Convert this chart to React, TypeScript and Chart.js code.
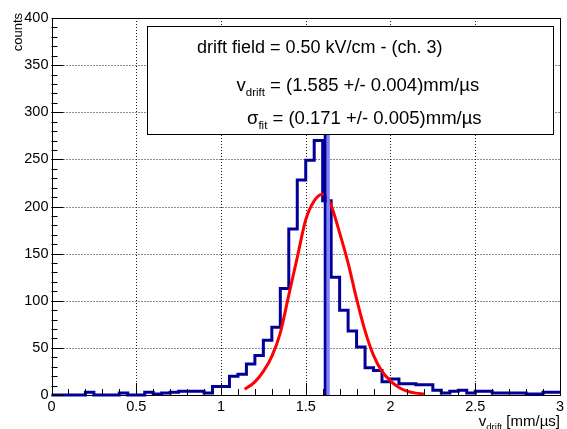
import React, { useEffect, useRef } from "react";
import { Chart, registerables } from "chart.js";

Chart.register(...registerables);

// ---------------- data ----------------
const BIN_WIDTH = 0.05;
const X_MIN = 0;
const X_MAX = 3;
const Y_MIN = 0;
const Y_MAX = 400;

// counts per 0.05-wide bin, from 0.00 to 3.00
const binCounts = [
  0, 0, 0, 0, 0, 3, 0, 0, 0, 2,
  0, 0, 3, 1, 2, 3, 4, 4, 4, 2,
  9, 9, 20, 22, 33, 42, 58, 72, 113, 176,
  228, 249, 270, 206, 125, 90, 68, 51, 29, 26,
  14, 17, 12, 12, 11, 11, 5, 2, 4, 5,
  2, 4, 4, 2, 2, 2, 2, 1, 1, 3,
];

// gaussian fit curve
const fitX = [1.14, 1.2, 1.25, 1.3, 1.35, 1.4, 1.45, 1.5, 1.55, 1.6, 1.65, 1.7, 1.75, 1.8, 1.85, 1.9, 1.95, 2.0, 2.05, 2.1, 2.15, 2.2];
const fitY = [6, 14, 25, 41, 66, 106, 146, 186, 206, 213, 201, 172, 140, 102, 68, 42, 25, 15, 8, 4, 2, 1];

// vertical marker lines (x position, top value)
const markerDarkX = [1.615];
const markerLightX = [1.633];
const markerTop = [290];

const xMajorTicks = [0, 0.5, 1, 1.5, 2, 2.5, 3];
const yMajorTicks = [0, 50, 100, 150, 200, 250, 300, 350, 400];
const X_MINOR_STEP = 0.1;
const Y_MINOR_STEP = 10;

const legendTitle = "drift field = 0.50 kV/cm - (ch. 3)";
const vdriftParts: Array<[string, boolean]> = [["v", false], ["drift", true], [" = (1.585 +/- 0.004)mm/\u00b5s", false]];
const sigmaParts: Array<[string, boolean]> = [["\u03c3", false], ["fit", true], [" = (0.171 +/- 0.005)mm/\u00b5s", false]];
const xTitleParts: Array<[string, boolean]> = [["v", false], ["drift", true], [" [mm/\u00b5s]", false]];
const yTitle = "counts";

// ---------------- style ----------------
const FONT = '"Liberation Sans", Arial, Helvetica, sans-serif';
const HIST_COLOR = "#000099";
const FIT_COLOR = "#ff0000";
const MARK_LIGHT = "#7f7fff";

function drawRich(
  ctx: CanvasRenderingContext2D,
  x: number,
  baseline: number,
  parts: Array<[string, boolean]>,
  mainSize: number,
  subSize: number,
  subShift: number,
  align: "left" | "right"
) {
  const mainFont = `${mainSize}px ${FONT}`;
  const subFont = `${subSize}px ${FONT}`;
  const widths = parts.map(([t, sub]) => {
    ctx.font = sub ? subFont : mainFont;
    return ctx.measureText(t).width;
  });
  const total = widths.reduce((a, b) => a + b, 0);
  let cx = align === "right" ? x - total : x;
  ctx.textAlign = "left";
  ctx.textBaseline = "alphabetic";
  parts.forEach(([t, sub], i) => {
    ctx.font = sub ? subFont : mainFont;
    ctx.fillText(t, cx, sub ? baseline + subShift : baseline);
    cx += widths[i];
  });
}

const rootPlugin = {
  id: "rootStyle",
  beforeDatasetsDraw(chart: any) {
    const { ctx, chartArea: a, scales } = chart;
    const xs = scales.x;
    const ys = scales.y;
    ctx.save();
    // dotted grid
    ctx.strokeStyle = "#1a1a1a";
    ctx.lineWidth = 1;
    ctx.setLineDash([1, 2]);
    xMajorTicks.forEach((v) => {
      if (v <= X_MIN || v >= X_MAX) return;
      const px = Math.round(xs.getPixelForValue(v)) + 0.5;
      ctx.beginPath();
      ctx.moveTo(px, a.top);
      ctx.lineTo(px, a.bottom);
      ctx.stroke();
    });
    yMajorTicks.forEach((v) => {
      if (v <= Y_MIN || v >= Y_MAX) return;
      const py = Math.round(ys.getPixelForValue(v)) + 0.5;
      ctx.beginPath();
      ctx.moveTo(a.left, py);
      ctx.lineTo(a.right, py);
      ctx.stroke();
    });
    ctx.setLineDash([]);
    // frame
    ctx.strokeStyle = "#000";
    ctx.lineWidth = 1;
    ctx.strokeRect(Math.round(a.left) + 0.5, Math.round(a.top) + 0.5, Math.round(a.right - a.left), Math.round(a.bottom - a.top));
    ctx.restore();
  },
  afterDatasetsDraw(chart: any) {
    const { ctx, chartArea: a, scales } = chart;
    const xs = scales.x;
    const ys = scales.y;
    ctx.save();
    ctx.strokeStyle = "#000";
    ctx.lineWidth = 1;
    ctx.beginPath();
    ctx.moveTo(Math.round(a.left) + 0.5, a.top);
    ctx.lineTo(Math.round(a.left) + 0.5, a.bottom);
    ctx.stroke();
    // x ticks (inward)
    const nx = Math.round((X_MAX - X_MIN) / X_MINOR_STEP);
    for (let i = 0; i <= nx; i++) {
      const v = X_MIN + i * X_MINOR_STEP;
      const major = xMajorTicks.some((m) => Math.abs(m - v) < 1e-6);
      const px = Math.round(xs.getPixelForValue(v)) + 0.5;
      ctx.beginPath();
      ctx.moveTo(px, a.bottom);
      ctx.lineTo(px, a.bottom - (major ? 12 : 6));
      ctx.stroke();
    }
    // y ticks (inward)
    const ny = Math.round((Y_MAX - Y_MIN) / Y_MINOR_STEP);
    for (let i = 0; i <= ny; i++) {
      const v = Y_MIN + i * Y_MINOR_STEP;
      const major = yMajorTicks.some((m) => Math.abs(m - v) < 1e-6);
      const py = Math.round(ys.getPixelForValue(v)) + 0.5;
      ctx.beginPath();
      ctx.moveTo(a.left, py);
      ctx.lineTo(a.left + (major ? 12 : 6), py);
      ctx.stroke();
    }
    ctx.restore();
  },
  afterDraw(chart: any) {
    const { ctx, chartArea: a } = chart;
    ctx.save();
    // text box
    const bx0 = 147.5, by0 = 26.5, bx1 = 553.5, by1 = 134.5;
    ctx.fillStyle = "#fff";
    ctx.fillRect(bx0, by0, bx1 - bx0, by1 - by0);
    ctx.strokeStyle = "#000";
    ctx.lineWidth = 1;
    ctx.strokeRect(bx0, by0, bx1 - bx0, by1 - by0);
    ctx.fillStyle = "#000";
    ctx.font = `18px ${FONT}`;
    ctx.textAlign = "left";
    ctx.textBaseline = "alphabetic";
    ctx.fillText(legendTitle, 197, 53);
    drawRich(ctx, 236.5, 90.5, vdriftParts, 18.5, 11.5, 5, "left");
    drawRich(ctx, 247, 123.5, sigmaParts, 18.5, 11.5, 5, "left");

    // x title
    drawRich(ctx, a.right, 426, xTitleParts, 15, 9.5, 4, "right");

    // y title
    ctx.save();
    ctx.translate(18, a.top - 5);
    ctx.rotate(-Math.PI / 2);
    ctx.font = `13px ${FONT}`;
    ctx.textAlign = "right";
    ctx.textBaseline = "middle";
    ctx.fillStyle = "#000";
    ctx.fillText(yTitle, 0, 0);
    ctx.restore();
    ctx.restore();
  },
};

export default function App() {
  const canvasRef = useRef<HTMLCanvasElement | null>(null);

  useEffect(() => {
    const canvas = canvasRef.current;
    if (!canvas) return;

    const histPoints = binCounts.map((c, i) => ({ x: X_MIN + i * BIN_WIDTH, y: c }));
    histPoints.push({ x: X_MAX, y: binCounts[binCounts.length - 1] });
    const fitPoints = fitX.map((x, i) => ({ x, y: fitY[i] }));

    const tickFont = { family: FONT, size: 14.5 };
    const fmt = (v: any) => `${+(+v).toFixed(2)}`;

    const chart = new Chart(canvas, {
      type: "line",
      data: {
        datasets: [
          {
            label: "hist",
            data: histPoints,
            stepped: "after",
            borderColor: HIST_COLOR,
            borderWidth: 3,
            pointRadius: 0,
            fill: false,
            order: 2,
            clip: false,
          } as any,
          {
            label: "fit",
            data: fitPoints,
            borderColor: FIT_COLOR,
            borderWidth: 3,
            pointRadius: 0,
            fill: false,
            cubicInterpolationMode: "monotone",
            order: 1,
            clip: false,
          } as any,
          {
            label: "markerLight",
            data: [
              { x: markerLightX[0], y: Y_MIN },
              { x: markerLightX[0], y: markerTop[0] },
            ],
            borderColor: MARK_LIGHT,
            borderWidth: 3,
            pointRadius: 0,
            fill: false,
            order: 0,
          } as any,
          {
            label: "markerDark",
            data: [
              { x: markerDarkX[0], y: Y_MIN },
              { x: markerDarkX[0], y: markerTop[0] },
            ],
            borderColor: HIST_COLOR,
            borderWidth: 3,
            pointRadius: 0,
            fill: false,
            order: 0,
          } as any,
        ],
      },
      options: {
        responsive: false,
        animation: false,
        devicePixelRatio: 1,
        layout: { padding: { top: 18, right: 4.5, left: 0, bottom: 0 } },
        plugins: {
          legend: { display: false },
          tooltip: { enabled: false },
          title: { display: false },
        },
        scales: {
          x: {
            type: "linear",
            min: X_MIN,
            max: X_MAX,
            afterFit: (s: any) => {
              s.height = 34;
            },
            grid: { display: false, drawTicks: false },
            border: { display: false },
            ticks: {
              stepSize: 0.5,
              padding: 3,
              color: "#000",
              font: tickFont,
              maxRotation: 0,
              autoSkip: false,
              callback: fmt,
            },
          },
          y: {
            type: "linear",
            min: Y_MIN,
            max: Y_MAX,
            afterFit: (s: any) => {
              s.width = 51.5;
            },
            grid: { display: false, drawTicks: false },
            border: { display: false },
            ticks: {
              stepSize: 50,
              padding: 3,
              color: "#000",
              font: tickFont,
              autoSkip: false,
              callback: fmt,
            },
          },
        },
      } as any,
      plugins: [rootPlugin as any],
    });

    return () => chart.destroy();
  }, []);

  return (
    <div style={{ position: "absolute", left: 0, top: 0, width: 567, height: 429, background: "#fff" }}>
      <canvas ref={canvasRef} width={567} height={429} style={{ display: "block", width: 567, height: 429 }} />
    </div>
  );
}
